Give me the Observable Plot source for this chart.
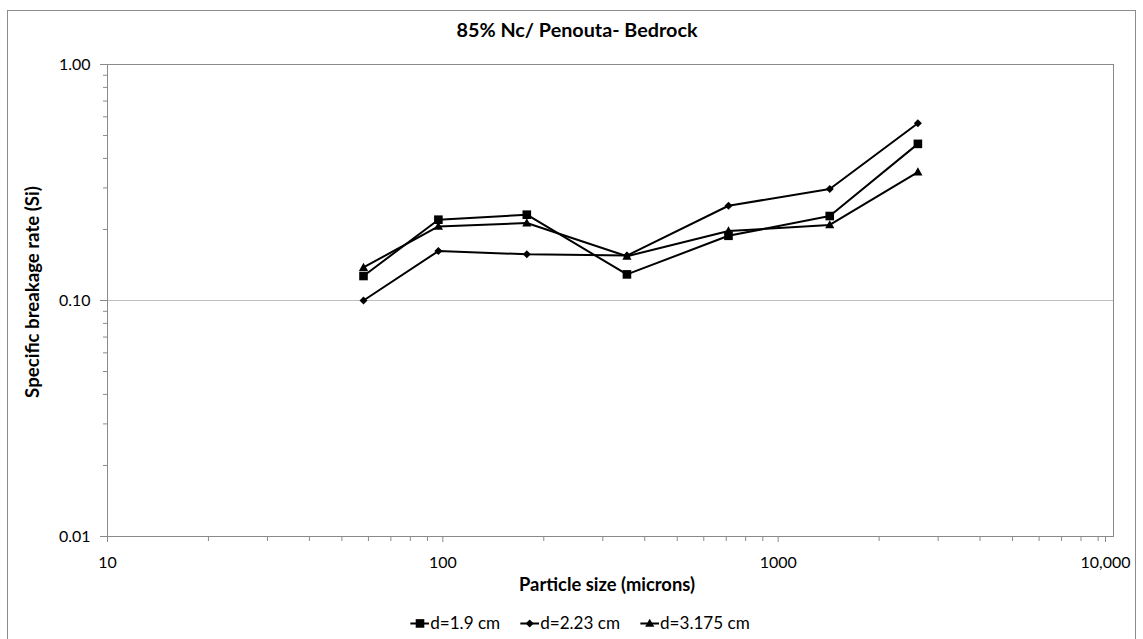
<!DOCTYPE html>
<html>
<head>
<meta charset="utf-8">
<script src="https://cdn.jsdelivr.net/npm/d3@7"></script>
<script src="https://cdn.jsdelivr.net/npm/@observablehq/plot@0.6"></script>
<style>
  html, body { margin: 0; padding: 0; background: #fff; }
  #wrap { position: relative; width: 1143px; height: 639px; overflow: hidden; font-family: Lato, "Open Sans", sans-serif; }
  #border { position: absolute; left: 7px; top: 10px; width: 1129px; height: 660px; border: 1px solid #8c8c8c; box-sizing: border-box; }
  #chart { position: absolute; left: 0; top: 0; }
  .txt { position: absolute; color: #000; white-space: nowrap; line-height: 1; transform: translate(-50%, -50%); }
  #title { font-weight: bold; }
  #xlabel { font-weight: bold; }
  #ylabel { transform: translate(-50%, -50%) rotate(-90deg); font-weight: bold; }
  #legend { display: flex; align-items: center; }
  #legend span.item { display: inline-flex; align-items: center; margin-right: 20px; }
  #legend span.item:last-child { margin-right: 0; }
  #legend svg { margin-right: 1px; }
</style>
</head>
<body>
<div id="wrap">
  <div id="border"></div>
  <div id="chart"></div>
  <div class="txt" id="title">85% Nc/ Penouta- Bedrock</div>
  <div class="txt" id="xlabel">Particle size (microns)</div>
  <div class="txt" id="ylabel">Specific breakage rate (Si)</div>
  <div class="txt" id="legend"></div>
</div>
<script>
// Data
const sizes = [58, 97, 178, 354, 711, 1425, 2610];
const seriesNames = ["d=1.9 cm", "d=2.23 cm", "d=3.175 cm"];
const s19 = [0.127, 0.220, 0.231, 0.129, 0.188, 0.228, 0.461];
const s223 = [0.100, 0.162, 0.157, 0.155, 0.252, 0.297, 0.564];
const s3175 = [0.138, 0.206, 0.213, 0.154, 0.197, 0.209, 0.350];
const xTicks = [10, 100, 1000];
const xTickLabels = ["10", "100", "1000"];
const xLastTick = [10000];
const xLastLabel = "10,000";
const yTicks = [0.01, 0.1, 1];
const yTickLabels = ["0.01", "0.10", "1.00"];

const FONT = "Lato, 'Open Sans', sans-serif";
const cv = document.createElement("canvas").getContext("2d");
function fit(text, weight, target) {
  cv.font = `${weight} 100px ${FONT}`;
  return 100 * target / cv.measureText(text).width;
}
const tickFont = fit("1000", "normal", 37);
const titleFont = fit("85% Nc/ Penouta- Bedrock", "bold", 241);
const xTitleFont = fit("Particle size (microns)", "bold", 176);
const yTitleFont = fit("Specific breakage rate (Si)", "bold", 212);
const legendFont = fit("d=1.9 cm", "normal", 70);

const xMinor = [];
for (let e = 1; e < 4; e++) for (let m = 2; m <= 9; m++) xMinor.push(m * Math.pow(10, e));
const yMinor = [];
for (let e = -2; e < 0; e++) for (let m = 2; m <= 9; m++) yMinor.push(+(m * Math.pow(10, e)).toFixed(4));

// custom symbols (fixed pixel sizes)
const symSquare = { draw(ctx) { const h = 4.3; ctx.moveTo(-h, -h); ctx.lineTo(h, -h); ctx.lineTo(h, h); ctx.lineTo(-h, h); ctx.closePath(); } };
const symDiamond = { draw(ctx) { const h = 4; ctx.moveTo(0, -h); ctx.lineTo(h, 0); ctx.lineTo(0, h); ctx.lineTo(-h, 0); ctx.closePath(); } };
const symTriangle = { draw(ctx) { const w = 4.6, t = 4.8, b = 3.4; ctx.moveTo(0, -t); ctx.lineTo(w, b); ctx.lineTo(-w, b); ctx.closePath(); } };
const symbols = [symSquare, symDiamond, symTriangle];
const values = [s19, s223, s3175];

const rows = [];
seriesNames.forEach((name, i) => sizes.forEach((x, j) => rows.push({ series: name, idx: i, x, y: values[i][j] })));

const lineMarks = seriesNames.map((name, i) =>
  Plot.line(rows.filter(d => d.idx === i), { x: "x", y: "y", stroke: "#000", strokeWidth: 2 }));
const dotMarks = seriesNames.map((name, i) =>
  Plot.dot(rows.filter(d => d.idx === i), { x: "x", y: "y", symbol: symbols[i], fill: "#000", stroke: "none", r: 4 }));

const chart = Plot.plot({
  width: 1143,
  height: 639,
  marginLeft: 107,
  marginRight: 30,
  marginTop: 64,
  marginBottom: 103,
  style: { fontFamily: FONT, fontSize: tickFont + "px", color: "#000", background: "transparent" },
  x: { type: "log", domain: [10, 10000] },
  y: { type: "log", domain: [0.01, 1] },
  marks: [
    Plot.ruleY(yTicks, { stroke: "#bfbfbf", strokeWidth: 1 }),
    Plot.frame({ stroke: "#8a8a8a", strokeWidth: 1 }),
    Plot.axisX({ ticks: xMinor, tickSize: 5, text: null, label: null, stroke: "#8a8a8a" }),
    Plot.axisX({ ticks: xTicks, tickSize: 6, tickPadding: 14, tickFormat: d => xTickLabels[xTicks.indexOf(d)], label: null, stroke: "#8a8a8a", fill: "#000", fontSize: tickFont }),
    Plot.axisX({ ticks: xLastTick, tickSize: 6, tickPadding: 14, tickFormat: () => xLastLabel, label: null, stroke: "#8a8a8a", fill: "#000", fontSize: tickFont, dx: -8 }),
    Plot.axisY({ ticks: yMinor, tickSize: 4, text: null, label: null, stroke: "#8a8a8a" }),
    Plot.axisY({ ticks: yTicks, tickSize: 7, tickPadding: 10, tickFormat: d => yTickLabels[yTicks.indexOf(d)], label: null, stroke: "#8a8a8a", fill: "#000", fontSize: tickFont }),
    ...lineMarks,
    ...dotMarks
  ]
});
document.getElementById("chart").appendChild(chart);

function place(id, x, y, size) {
  const el = document.getElementById(id);
  el.style.left = x + "px";
  el.style.top = y + "px";
  el.style.fontSize = size + "px";
}
place("title", 577, 30, titleFont);
place("xlabel", 607, 584, xTitleFont);
place("ylabel", 32, 292, yTitleFont);
place("legend", 580, 623, legendFont);

// Legend
const legendShapes = [
  '<rect x="5.5" y="1.7" width="8.6" height="8.6" fill="#000"/>',
  '<path d="M9.5 2 L13.5 6 L9.5 10 L5.5 6 Z" fill="#000"/>',
  '<path d="M9.5 1.2 L14.1 9.4 L4.9 9.4 Z" fill="#000"/>'
];
const legend = document.getElementById("legend");
seriesNames.forEach((name, i) => {
  const item = document.createElement("span");
  item.className = "item";
  item.innerHTML = `<svg width="19" height="12" viewBox="0 0 19 12"><line x1="0" y1="6" x2="19" y2="6" stroke="#000" stroke-width="2"/>${legendShapes[i]}</svg><span>${name}</span>`;
  legend.appendChild(item);
});
</script>
</body>
</html>
